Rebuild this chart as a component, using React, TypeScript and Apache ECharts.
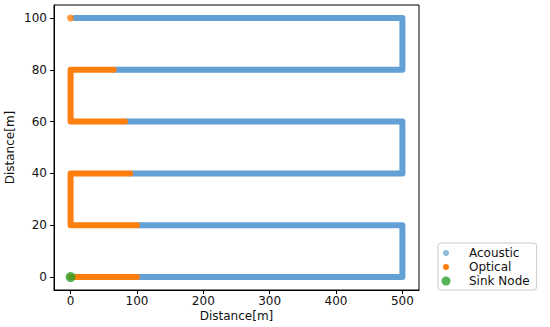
import React, { useEffect, useRef } from "react";
import * as echarts from "echarts";

// Path segments (waypoints), in metres
const acousticSegments: number[][][] = [
  [[100, 0], [500, 0], [500, 20], [100, 20]],
  [[90, 40], [500, 40], [500, 60], [82, 60]],
  [[65, 80], [500, 80], [500, 100], [6, 100]],
];
const opticalSegments: number[][][] = [
  [[0, 0], [100, 0]],
  [[100, 20], [0, 20], [0, 40], [90, 40]],
  [[82, 60], [0, 60], [0, 80], [65, 80]],
];
const opticalPoints: number[][] = [[0, 100]];
const sinkPoints: number[][] = [[0, 0]];

const xTicks = [0, 100, 200, 300, 400, 500];
const yTicks = [0, 20, 40, 60, 80, 100];

const FONT = "DejaVu Sans";
const BLUE = "#62a0d5";
const BLUE_LEGEND = "#8fbbd9";
const ORANGE = "#ff7f0e";
const GREEN = "#2ca02c";

const smallCircle = "path://M0,0M12,12M3,6a3,3 0 1,0 6,0a3,3 0 1,0 -6,0";
const bigCircle = "path://M0,0M12,12M1.5,6a4.5,4.5 0 1,0 9,0a4.5,4.5 0 1,0 -9,0";

export default function App() {
  const ref = useRef<HTMLDivElement>(null);
  useEffect(() => {
    if (!ref.current) return;
    const chart = echarts.init(ref.current, undefined, { renderer: "svg" });
    const lineBase = {
      type: "line" as const,
      showSymbol: false,
      symbol: "none",
      silent: true,
    };
    const series: any[] = [];
    acousticSegments.forEach((seg) =>
      series.push({
        ...lineBase,
        name: "Acoustic",
        data: seg,
        itemStyle: { color: BLUE },
        lineStyle: { color: BLUE, width: 6, cap: "round", join: "round" },
        z: 2,
      })
    );
    opticalSegments.forEach((seg) =>
      series.push({
        ...lineBase,
        name: "Optical",
        data: seg,
        itemStyle: { color: ORANGE },
        lineStyle: { color: ORANGE, width: 6, cap: "round", join: "round" },
        z: 3,
      })
    );
    series.push({
      type: "scatter",
      name: "Optical",
      data: opticalPoints,
      symbolSize: 7,
      itemStyle: { color: ORANGE },
      z: 3,
      silent: true,
    });
    series.push({
      type: "scatter",
      name: "Sink Node",
      data: sinkPoints,
      symbolSize: 10,
      itemStyle: { color: GREEN },
      z: 4,
      silent: true,
    });

    chart.setOption({
      animation: false,
      grid: {
        left: 54,
        right: 131,
        top: 5,
        bottom: 37,
        containLabel: false,
        outerBoundsMode: "none",
        show: true,
        borderColor: "#000",
        borderWidth: 1,
        backgroundColor: "transparent",
      },
      legend: {
        orient: "vertical",
        left: 438,
        top: 243,
        itemWidth: 30,
        itemHeight: 12,
        itemGap: 2,
        padding: [4, 7, 3, 2],
        borderColor: "#cccccc",
        borderWidth: 1,
        borderRadius: 3,
        backgroundColor: "#fff",
        selectedMode: false,
        textStyle: {
          fontFamily: FONT,
          fontSize: 12,
          color: "#111",
          padding: [0, 0, 0, 3],
        },
        data: [
          { name: "Acoustic", icon: smallCircle, itemStyle: { color: BLUE_LEGEND } },
          { name: "Optical", icon: smallCircle, itemStyle: { color: ORANGE } },
          { name: "Sink Node", icon: bigCircle, itemStyle: { color: GREEN } },
        ],
      },
      xAxis: {
        type: "value",
        min: -25,
        max: 525,
        name: "Distance[m]",
        nameLocation: "middle",
        nameGap: 20,
        nameMoveOverlap: false,
        nameTextStyle: { fontFamily: FONT, fontSize: 12, color: "#111" },
        splitLine: { show: false },
        axisLine: { show: true, onZero: false, lineStyle: { color: "#000", width: 1 } },
        axisTick: {
          show: true,
          length: 4,
          lineStyle: { color: "#000" },
          customValues: xTicks,
        },
        axisLabel: {
          fontFamily: FONT,
          fontSize: 12,
          color: "#111",
          margin: 5,
          customValues: xTicks,
        },
      },
      yAxis: {
        type: "value",
        min: -5,
        max: 105,
        name: "Distance[m]",
        nameLocation: "middle",
        nameGap: 38,
        nameRotate: 90,
        nameMoveOverlap: false,
        nameTextStyle: { fontFamily: FONT, fontSize: 12, color: "#111" },
        splitLine: { show: false },
        axisLine: { show: true, onZero: false, lineStyle: { color: "#000", width: 1 } },
        axisTick: {
          show: true,
          length: 4,
          lineStyle: { color: "#000" },
          customValues: yTicks,
        },
        axisLabel: {
          fontFamily: FONT,
          fontSize: 12,
          color: "#111",
          margin: 7,
          customValues: yTicks,
        },
      },
      series,
    });
    return () => chart.dispose();
  }, []);
  return (
    <div
      ref={ref}
      style={{ position: "absolute", left: 0, top: 0, width: 550, height: 327, background: "#fff" }}
    />
  );
}
